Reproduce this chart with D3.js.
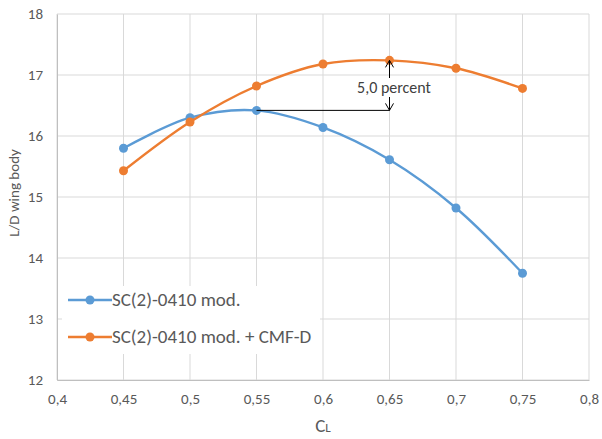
<!DOCTYPE html>
<html><head><meta charset="utf-8">
<script src="https://cdn.jsdelivr.net/npm/d3@7"></script>
<style>body{margin:0;background:#fff;font-family:Calibri,Carlito,"Open Sans",sans-serif;}</style>
</head><body>
<svg id="c" width="602" height="439"></svg>
<script>
const cl = [0.45, 0.5, 0.55, 0.6, 0.65, 0.7, 0.75];
const seriesNames = ["SC(2)-0410 mod.", "SC(2)-0410 mod. + CMF-D"];
const blueVals = [15.80, 16.30, 16.42, 16.14, 15.61, 14.82, 13.75];
const orangeVals = [15.43, 16.23, 16.82, 17.18, 17.24, 17.11, 16.78];
const xTicks = [0.4, 0.45, 0.5, 0.55, 0.6, 0.65, 0.7, 0.75, 0.8];
const yTicks = [12, 13, 14, 15, 16, 17, 18];
const annotText = "5,0 percent";

const svg = d3.select("#c");
const FF = "Calibri,Carlito,'Open Sans',sans-serif";
const L = 57, R = 589, T = 14, B = 380;
const x = d3.scaleLinear().domain([0.4, 0.8]).range([L, R]);
const y = d3.scaleLinear().domain([12, 18]).range([B, T]);
const fmt = v => String(v).replace(".", ",");
const grid = "#d9d9d9", txt = "#595959";

// gridlines
svg.append("g").selectAll("line").data(yTicks).join("line")
  .attr("x1", L).attr("x2", R).attr("y1", d => y(d)).attr("y2", d => y(d))
  .attr("stroke", grid).attr("stroke-width", 1);
svg.append("g").selectAll("line").data(xTicks).join("line")
  .attr("y1", T).attr("y2", B).attr("x1", d => x(d)).attr("x2", d => x(d))
  .attr("stroke", grid).attr("stroke-width", 1);

// axes
const xa = svg.append("g").attr("transform", `translate(0,${B})`)
  .call(d3.axisBottom(x).tickValues(xTicks).tickFormat(fmt).tickSize(0).tickPadding(13));
const ya = svg.append("g").attr("transform", `translate(${L},0)`)
  .call(d3.axisLeft(y).tickValues(yTicks).tickFormat(d => d).tickSize(0).tickPadding(14));
[xa, ya].forEach(a => {
  a.select(".domain").attr("stroke", "#bfbfbf");
  a.selectAll("text").attr("fill", txt).style("font-size", "15px").style("font-family", FF);
});

// axis titles
svg.append("text").attr("x", 323).attr("y", 432).attr("text-anchor", "middle")
  .attr("fill", txt).style("font-size", "19px").style("font-family", FF)
  .html('C<tspan font-size="13px">L</tspan>');
svg.append("text").attr("transform", "translate(19,193) rotate(-90)")
  .attr("text-anchor", "middle").attr("fill", txt).style("font-size", "15px").style("font-family", FF)
  .text("L/D wing body");

// series
const line = d3.line().x((d, i) => x(cl[i])).y(d => y(d)).curve(d3.curveCatmullRom.alpha(0.5));
const series = [{vals: blueVals, color: "#5B9BD5"}, {vals: orangeVals, color: "#ED7D31"}];
series.forEach(s => {
  svg.append("path").attr("d", line(s.vals)).attr("fill", "none")
    .attr("stroke", s.color).attr("stroke-width", 2.4);
  svg.append("g").selectAll("circle").data(s.vals).join("circle")
    .attr("cx", (d, i) => x(cl[i])).attr("cy", d => y(d)).attr("r", 4.5)
    .attr("fill", s.color);
});

// annotation
const bx = x(cl[2]), by = y(blueVals[2]);
const ax = x(cl[4]), ay = y(orangeVals[4]);
svg.append("line").attr("x1", bx).attr("x2", ax).attr("y1", by).attr("y2", by)
  .attr("stroke", "#000").attr("stroke-width", 1);
svg.append("line").attr("x1", ax).attr("x2", ax).attr("y1", ay).attr("y2", by)
  .attr("stroke", "#000").attr("stroke-width", 1);
const ah = (yy, dir) => svg.append("path")
  .attr("d", `M${ax-4},${yy+dir*7}L${ax},${yy}L${ax+4},${yy+dir*7}`)
  .attr("fill", "none").attr("stroke", "#000").attr("stroke-width", 1);
ah(ay, 1); ah(by, -1);
svg.append("rect").attr("x", 355).attr("y", 78).attr("width", 78).attr("height", 19).attr("fill", "#fff");
svg.append("text").attr("x", 394).attr("y", 93).attr("text-anchor", "middle")
  .attr("fill", "#404040").style("font-size", "16px").style("font-family", FF).text(annotText);

// legend
const lg = svg.append("g");
lg.append("rect").attr("x", 62).attr("y", 286).attr("width", 258).attr("height", 68).attr("fill", "#fff");
series.forEach((s, i) => {
  const yy = 300 + i * 37;
  lg.append("line").attr("x1", 68).attr("x2", 112).attr("y1", yy).attr("y2", yy)
    .attr("stroke", s.color).attr("stroke-width", 2.4);
  lg.append("circle").attr("cx", 90).attr("cy", yy).attr("r", 4.5).attr("fill", s.color);
  lg.append("text").attr("x", 112).attr("y", yy + 6).attr("fill", txt)
    .style("font-size", "19px").style("font-family", FF).text(seriesNames[i]);
});
</script>
</body></html>
